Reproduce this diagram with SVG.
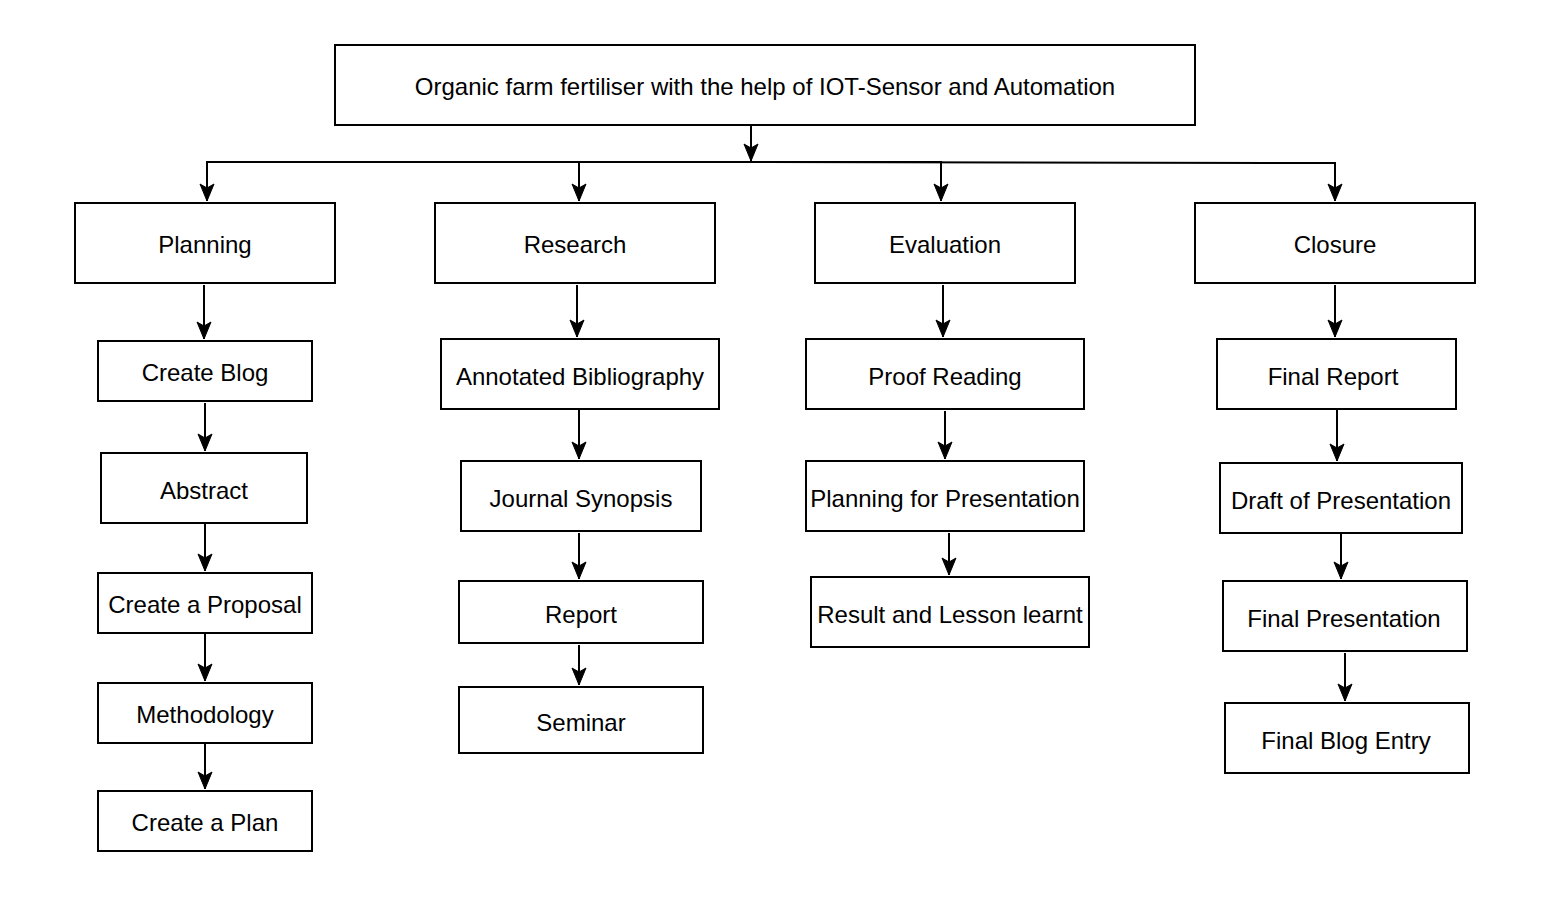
<svg xmlns="http://www.w3.org/2000/svg" width="1562" height="924" viewBox="0 0 1562 924">
<defs>
<style>
.box{fill:#fff;stroke:#000;stroke-width:2}
.lbl{font-family:"Liberation Sans",Arial,Helvetica,sans-serif;font-size:24px;fill:#000;text-anchor:middle;dominant-baseline:central}
.edge{fill:none;stroke:#000;stroke-width:2;marker-end:url(#arr)}
</style>
<marker id="arr" markerUnits="userSpaceOnUse" markerWidth="20" markerHeight="16" refX="17" refY="7.5" orient="auto" overflow="visible">
<path d="M0,0.5 L17,7.5 L0,14.5 L4,7.5 z" fill="#000" stroke="#000" stroke-width="1" stroke-linejoin="miter"/>
</marker>
</defs>
<rect width="1562" height="924" fill="#fff"/>
<g id="connectors">
<path class="edge" d="M751,125 L751,161"/>
<path class="edge" d="M751,162 L207,162 L207,201"/>
<path class="edge" d="M751,162 L579,162 L579,201"/>
<path class="edge" d="M751,162 L941,162 L941,201"/>
<path class="edge" d="M751,162 L1335,163 L1335,201"/>
<path class="edge" d="M204,285 L204,339"/>
<path class="edge" d="M205,403 L205,451"/>
<path class="edge" d="M205,523 L205,571"/>
<path class="edge" d="M205,633 L205,681"/>
<path class="edge" d="M205,743 L205,789"/>
<path class="edge" d="M577,285 L577,337"/>
<path class="edge" d="M579,410 L579,459"/>
<path class="edge" d="M579,533 L579,579"/>
<path class="edge" d="M579,645 L579,685"/>
<path class="edge" d="M943,285 L943,337"/>
<path class="edge" d="M945,411 L945,459"/>
<path class="edge" d="M949,533 L949,575"/>
<path class="edge" d="M1335,285 L1335,337"/>
<path class="edge" d="M1337,410 L1337,461"/>
<path class="edge" d="M1341,534 L1341,579"/>
<path class="edge" d="M1345,653 L1345,701"/>
</g>
<g id="root"><rect class="box" x="335" y="45" width="860" height="80"/><text class="lbl" x="765" y="86">Organic farm fertiliser with the help of IOT-Sensor and Automation</text></g>
<g id="planning"><rect class="box" x="75" y="203" width="260" height="80"/><text class="lbl" x="205" y="244">Planning</text></g>
<g id="research"><rect class="box" x="435" y="203" width="280" height="80"/><text class="lbl" x="575" y="244">Research</text></g>
<g id="evaluation"><rect class="box" x="815" y="203" width="260" height="80"/><text class="lbl" x="945" y="244">Evaluation</text></g>
<g id="closure"><rect class="box" x="1195" y="203" width="280" height="80"/><text class="lbl" x="1335" y="244">Closure</text></g>
<g id="create-blog"><rect class="box" x="98" y="341" width="214" height="60"/><text class="lbl" x="205" y="372">Create Blog</text></g>
<g id="abstract"><rect class="box" x="101" y="453" width="206" height="70"/><text class="lbl" x="204" y="490">Abstract</text></g>
<g id="proposal"><rect class="box" x="98" y="573" width="214" height="60"/><text class="lbl" x="205" y="604">Create a Proposal</text></g>
<g id="methodology"><rect class="box" x="98" y="683" width="214" height="60"/><text class="lbl" x="205" y="714">Methodology</text></g>
<g id="plan"><rect class="box" x="98" y="791" width="214" height="60"/><text class="lbl" x="205" y="822">Create a Plan</text></g>
<g id="annotated"><rect class="box" x="441" y="339" width="278" height="70"/><text class="lbl" x="580" y="376">Annotated Bibliography</text></g>
<g id="journal"><rect class="box" x="461" y="461" width="240" height="70"/><text class="lbl" x="581" y="498">Journal Synopsis</text></g>
<g id="report"><rect class="box" x="459" y="581" width="244" height="62"/><text class="lbl" x="581" y="614">Report</text></g>
<g id="seminar"><rect class="box" x="459" y="687" width="244" height="66"/><text class="lbl" x="581" y="722">Seminar</text></g>
<g id="proof"><rect class="box" x="806" y="339" width="278" height="70"/><text class="lbl" x="945" y="376">Proof Reading</text></g>
<g id="planning-pres"><rect class="box" x="806" y="461" width="278" height="70"/><text class="lbl" x="945" y="498">Planning for Presentation</text></g>
<g id="result"><rect class="box" x="811" y="577" width="278" height="70"/><text class="lbl" x="950" y="614">Result and Lesson learnt</text></g>
<g id="final-report"><rect class="box" x="1217" y="339" width="239" height="70"/><text class="lbl" x="1333" y="376">Final Report</text></g>
<g id="draft"><rect class="box" x="1220" y="463" width="242" height="70"/><text class="lbl" x="1341" y="500">Draft of Presentation</text></g>
<g id="final-pres"><rect class="box" x="1223" y="581" width="244" height="70"/><text class="lbl" x="1344" y="618">Final Presentation</text></g>
<g id="final-blog"><rect class="box" x="1225" y="703" width="244" height="70"/><text class="lbl" x="1346" y="740">Final Blog Entry</text></g>
</svg>
